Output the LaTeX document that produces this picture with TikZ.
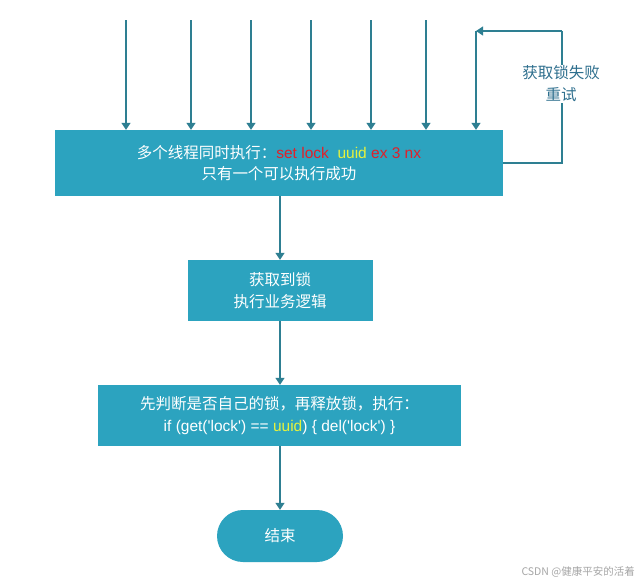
\documentclass[tikz,border=0pt]{standalone}
\usepackage{fontspec}
\setmainfont{Liberation Sans}
\newfontfamily\cjk{Noto Sans CJK SC}
\usetikzlibrary{arrows.meta}
\definecolor{boxfill}{HTML}{2CA3BF}
\definecolor{arrowc}{HTML}{2E7F92}
\definecolor{lblc}{HTML}{2E6F8E}
\definecolor{redt}{HTML}{E0202A}
\definecolor{yelt}{HTML}{E6F23C}
\begin{document}
\begin{tikzpicture}[x=1pt,y=-1pt,
  flowbox/.style={draw=none,fill=boxfill,text=white,align=center,inner sep=0pt,font=\fontsize{15.5}{21.5}\selectfont\cjk},
  conn/.style={draw=arrowc,line width=1.1pt,-{Triangle[length=7pt,width=9pt]}},
  plainconn/.style={draw=arrowc,line width=1.1pt}]
\useasboundingbox (0,0) rectangle (641,584);
\fill[white] (0,0) rectangle (641,584);
\node[flowbox,minimum width=448pt,minimum height=66pt] (main) at (279,163)
  {多个线程同时执行：{\fontspec{Liberation Sans}\color{redt}set lock \ {\color{yelt}uuid} ex 3 nx}\\只有一个可以执行成功};
\node[flowbox,minimum width=185pt,minimum height=61pt] (biz) at (280,290.5)
  {获取到锁\\执行业务逻辑};
\node[flowbox,minimum width=363pt,minimum height=61pt] (rel) at (279.5,415.5)
  {先判断是否自己的锁，再释放锁，执行：\\{\fontspec{Liberation Sans}if (get('lock') == {\color{yelt}uuid}) \{ del('lock') \}}};
\node[flowbox,minimum width=126pt,minimum height=52pt,rounded corners=26pt] (end) at (280,536) {结束};
\foreach \i/\xx in {1/126,2/191,3/251,4/311,5/371,6/426}{
  \coordinate (s\i) at (\xx,20);
  \draw[conn] (s\i) -- (s\i |- main.north);
}
\coordinate (c1) at (476,31);
\coordinate (c2) at (562,31);
\coordinate (c3) at (562,163);
\draw[conn] (c1) -- (c1 |- main.north);
\draw[plainconn] (main.east |- c3) -- (c3) -- (c2);
\draw[conn] (c2) -- (c1);
\node[fill=white,text=lblc,align=center,font=\fontsize{15.5}{22}\selectfont\cjk,inner sep=1pt] (lbl) at (561,84) {获取锁失败\\重试};
\draw[conn] (main.south -| biz.north) -- (biz.north);
\draw[conn] (biz.south) -- (biz.south |- rel.north);
\draw[conn] (rel.south -| end.north) -- (end.north);
\node[text=gray!70,font=\fontsize{10.5}{12}\selectfont\cjk,anchor=east,inner sep=0pt] (wm) at (635,572) {CSDN @健康平安的活着};
\end{tikzpicture}
\end{document}
